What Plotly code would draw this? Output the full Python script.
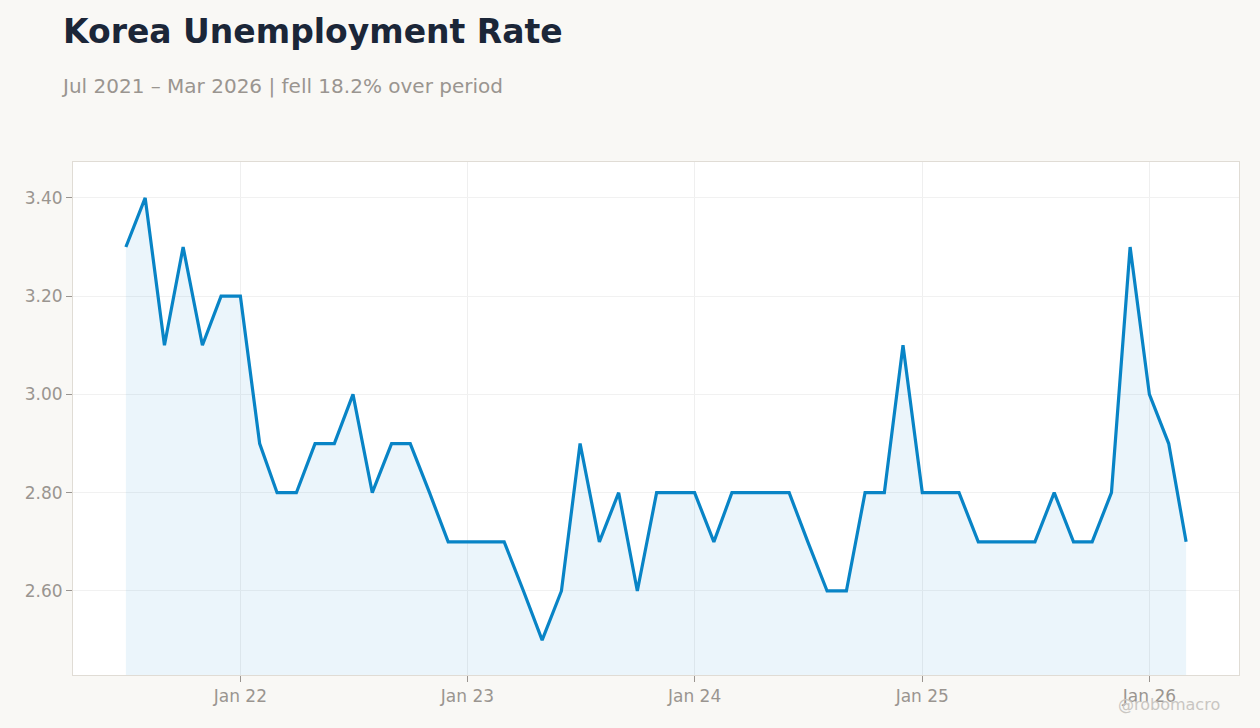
import pandas as pd
import plotly.graph_objects as go

# Korea unemployment rate, monthly, Jul 2021 - Mar 2026
months = pd.date_range('2021-07-01', '2026-03-01', freq='MS')
rate = [3.3, 3.4, 3.1, 3.3, 3.1, 3.2,
        3.2, 2.9, 2.8, 2.8, 2.9, 2.9, 3.0, 2.8, 2.9, 2.9, 2.8, 2.7,
        2.7, 2.7, 2.7, 2.6, 2.5, 2.6, 2.9, 2.7, 2.8, 2.6, 2.8, 2.8,
        2.8, 2.7, 2.8, 2.8, 2.8, 2.8, 2.7, 2.6, 2.6, 2.8, 2.8, 3.1,
        2.8, 2.8, 2.8, 2.7, 2.7, 2.7, 2.7, 2.8, 2.7, 2.7, 2.8, 3.3,
        3.0, 2.9, 2.7]
tick_dates = ['2022-01-01', '2023-01-01', '2024-01-01', '2025-01-01', '2026-01-01']
tick_text = ['Jan 22', 'Jan 23', 'Jan 24', 'Jan 25', 'Jan 26']

grey = '#9a9590'

fig = go.Figure()

# Line with light fill underneath
fig.add_trace(go.Scatter(
    x=months, y=rate, mode='lines', fill='tozeroy',
    fillcolor='rgba(0, 130, 200, 0.08)',
    line=dict(color='#0884c6', width=3.2),
    hoverinfo='x+y', showlegend=False,
))

fig.update_layout(
    width=1260, height=728,
    paper_bgcolor='#f9f8f5',
    plot_bgcolor='#ffffff',
    font=dict(family='DejaVu Sans', color=grey, size=17),
    margin=dict(l=73, r=21, t=162, b=53),
    title=dict(
        text='<b>Korea Unemployment Rate</b>',
        x=63 / 1260, xanchor='left', xref='container',
        y=1 - 31 / 728, yanchor='middle',
        font=dict(size=33, color='#1b2638'),
    ),
    showlegend=False,
)

fig.add_annotation(
    text='Jul 2021 – Mar 2026 | fell 18.2% over period',
    xref='paper', yref='paper', x=-14 / 1166, y=1 + 76 / 513,
    xanchor='left', yanchor='middle', showarrow=False,
    font=dict(size=20, color=grey),
)
fig.add_annotation(
    text='@robomacro',
    xref='paper', yref='paper', x=1 - 17 / 1166, y=-30 / 513,
    xanchor='right', yanchor='middle', showarrow=False,
    font=dict(size=16, color='#c9c6c2'),
)

fig.update_xaxes(
    range=['2021-04-07', '2026-05-25'],
    tickvals=tick_dates, ticktext=tick_text,
    showgrid=True, gridcolor='#efefef',
    ticks='outside', ticklen=6, tickcolor=grey,
    showline=True, linecolor='#e0dcd5', mirror=True,
    zeroline=False,
)
fig.update_yaxes(
    range=[2.429, 3.473],
    tickvals=[2.6, 2.8, 3.0, 3.2, 3.4], tickformat='.2f',
    showgrid=True, gridcolor='#f1f1f1',
    ticks='outside', ticklen=6, tickcolor=grey,
    showline=True, linecolor='#e0dcd5', mirror=True,
    zeroline=False,
)

fig.write_html("out.html", config={'displayModeBar': False},
               post_script="document.body.style.margin='0';")
